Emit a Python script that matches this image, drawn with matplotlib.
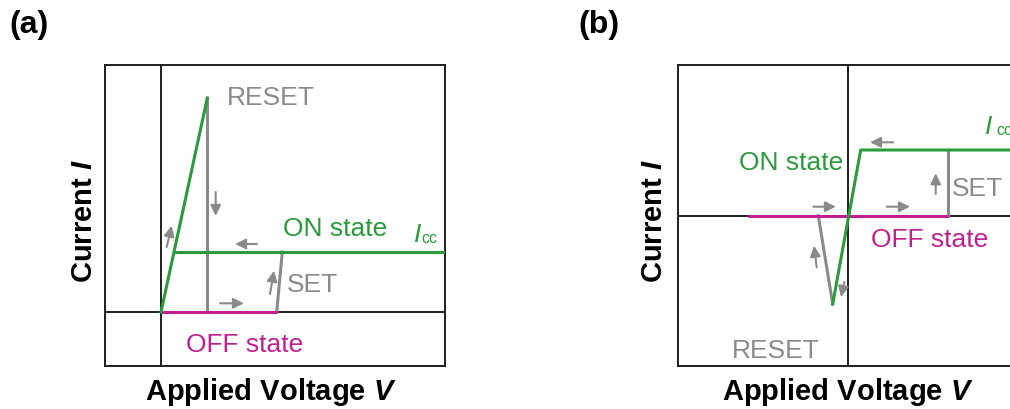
import matplotlib
matplotlib.use("Agg")
import matplotlib.pyplot as plt

plt.rcParams["font.family"] = ["Liberation Sans", "DejaVu Sans"]
plt.rcParams["mathtext.fontset"] = "custom"
plt.rcParams["mathtext.rm"] = "Liberation Sans"
plt.rcParams["mathtext.it"] = "Liberation Sans:italic"
plt.rcParams["mathtext.bf"] = "Liberation Sans:bold"
plt.rcParams["mathtext.bfit"] = "Liberation Sans:italic:bold"

GREEN = "#2a9a3c"
MAGENTA = "#c0208f"
GRAY = "#8a8a8a"
AXIS = "#1e1e1e"

# ---- (a) unipolar switching, arbitrary units -------------------------------
a_xlim = (-0.56, 2.84)
a_ylim = (-0.54, 2.47)
a_rise_v, a_rise_i = [0.0, 0.463], [0.0, 2.14]        # ON-state ohmic rise
a_on_v, a_on_i = [0.13, 2.84], [0.60, 0.60]           # compliance-limited ON
a_reset_v, a_reset_i = [0.463, 0.463], [2.14, 0.0]    # RESET drop
a_off_v, a_off_i = [0.0, 1.157], [0.0, 0.0]           # OFF state
a_set_v, a_set_i = [1.157, 1.213], [0.0, 0.60]        # SET jump
a_arrows = [((0.057, 0.65), (0.107, 0.863)),
            ((0.547, 1.20), (0.547, 0.96)),
            ((0.96, 0.68), (0.74, 0.68)),
            ((0.59, 0.087), (0.83, 0.087)),
            ((1.09, 0.18), (1.13, 0.413))]

# ---- (b) bipolar switching, arbitrary units --------------------------------
b_xlim = (-1.70, 1.637)
b_ylim = (-1.506, 1.507)
b_on_v, b_on_i = [1.70, 0.124, -0.156], [0.657, 0.657, -0.883]
b_reset_v, b_reset_i = [-0.30, -0.156], [0.0, -0.883]
b_off_v, b_off_i = [-1.00, 1.00], [0.0, 0.0]
b_set_v, b_set_i = [1.00, 1.00], [0.0, 0.657]
b_arrows = [((0.45, 0.734), (0.217, 0.734)),
            ((-0.35, 0.09), (-0.123, 0.09)),
            ((0.384, 0.09), (0.617, 0.09)),
            ((0.874, 0.217), (0.874, 0.424)),
            ((-0.316, -0.516), (-0.343, -0.30)),
            ((-0.04, -0.663), (-0.073, -0.813))]

W, H = 1010, 410
fig = plt.figure(figsize=(W / 100, H / 100), dpi=100)


def px_axes(left, right, top, bottom):
    return fig.add_axes([left / W, 1 - bottom / H, (right - left) / W, (bottom - top) / H])


def frame(ax, xlim, ylim):
    ax.set_xlim(*xlim)
    ax.set_ylim(*ylim)
    ax.set_xticks([])
    ax.set_yticks([])
    for s in ax.spines.values():
        s.set_linewidth(1.4)
        s.set_color(AXIS)
    ax.axhline(0, color=AXIS, lw=1.4, zorder=1)
    ax.axvline(0, color=AXIS, lw=1.4, zorder=1)


def arrows(ax, pairs):
    for start, end in pairs:
        ax.annotate("", xy=end, xytext=start,
                    arrowprops=dict(arrowstyle="-|>,head_length=0.45,head_width=0.22",
                                    color=GRAY, lw=1.5, shrinkA=0, shrinkB=0,
                                    mutation_scale=14), zorder=4)


LW = 2.2
FS = 19

# ---------------- panel (a) ----------------
ax = px_axes(105, 445, 66, 367)
frame(ax, a_xlim, a_ylim)
ax.plot(a_reset_v, a_reset_i, color=GRAY, lw=LW, zorder=2)
ax.plot(a_set_v, a_set_i, color=GRAY, lw=LW, zorder=2)
ax.plot(a_off_v, a_off_i, color=MAGENTA, lw=LW, zorder=3, solid_capstyle="butt")
ax.plot(a_rise_v, a_rise_i, color=GREEN, lw=LW, zorder=3)
ax.plot(a_on_v, a_on_i, color=GREEN, lw=LW, zorder=3)
arrows(ax, a_arrows)
ax.text(0.657, 2.08, "RESET", color=GRAY, fontsize=FS, va="baseline")
ax.text(1.217, 0.775, "ON state", color=GREEN, fontsize=FS, va="baseline")
ax.text(1.257, 0.207, "SET", color=GRAY, fontsize=FS, va="baseline")
ax.text(0.25, -0.393, "OFF state", color=MAGENTA, fontsize=FS, va="baseline")
ax.text(2.53, 0.707, "I", color=GREEN, fontsize=FS, style="italic", va="baseline")
ax.text(2.607, 0.70, "cc", color=GREEN, fontsize=11.5, va="baseline")

# ---------------- panel (b) ----------------
bx = px_axes(678.3, 1012, 66, 367.3)
frame(bx, b_xlim, b_ylim)
bx.plot(b_reset_v, b_reset_i, color=GRAY, lw=LW, zorder=2)
bx.plot(b_set_v, b_set_i, color=GRAY, lw=LW, zorder=2)
bx.plot(b_off_v, b_off_i, color=MAGENTA, lw=LW, zorder=3, solid_capstyle="butt")
bx.plot(b_on_v, b_on_i, color=GREEN, lw=LW, zorder=3)
arrows(bx, b_arrows)
bx.text(-1.093, 0.467, "ON state", color=GREEN, fontsize=FS, va="baseline")
bx.text(1.034, 0.21, "SET", color=GRAY, fontsize=FS, va="baseline")
bx.text(0.227, -0.30, "OFF state", color=MAGENTA, fontsize=FS, va="baseline")
bx.text(-1.166, -1.416, "RESET", color=GRAY, fontsize=FS, va="baseline")
bx.text(1.37, 0.824, "I", color=GREEN, fontsize=FS, style="italic", va="baseline",
        clip_on=False)
bx.text(1.477, 0.817, "cc", color=GREEN, fontsize=11.5, va="baseline", clip_on=False)

# ---------------- labels ----------------
LFS = 21
for cx, tag in ((29, "(a)"), (599, "(b)")):
    fig.text(cx / W, 1 - 25 / H, tag, fontsize=23, fontweight="bold",
             ha="center", va="center")
for cx in (271, 848):
    fig.text(cx / W, 1 - 400 / H, r"Applied Voltage $\mathbfit{V}$", fontsize=LFS,
             fontweight="bold", ha="center", va="baseline")
for cx in (84, 654):
    fig.text(cx / W, 1 - 221 / H, r"Current $\mathbfit{I}$", fontsize=LFS,
             fontweight="bold", ha="center", va="center", rotation=90)

fig.savefig("out.png", dpi=100)
